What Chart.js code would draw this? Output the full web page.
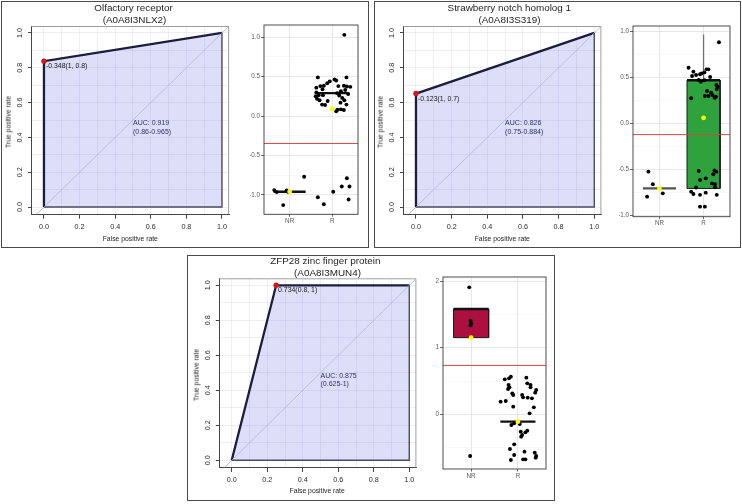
<!DOCTYPE html>
<html><head><meta charset="utf-8">
<script src="https://cdn.jsdelivr.net/npm/chart.js@4.4.1/dist/chart.umd.min.js"></script>
<style>
html,body{margin:0;padding:0;background:#fff;width:742px;height:504px;overflow:hidden;position:relative;font-family:"Liberation Sans",Arial,sans-serif;}
canvas{position:absolute;left:0;top:0;}
.frame{position:absolute;border:1px solid #4a4a4a;box-sizing:border-box;}
.t{position:absolute;white-space:nowrap;transform:translate(-50%,-50%);line-height:1;}
</style></head><body>
<script>
// ---------------- DATA ----------------
const TITLES = ['Olfactory receptor', 'Strawberry notch homolog 1', 'ZFP28 zinc finger protein'];
const IDS = ['(A0A8I3NLX2)', '(A0A8I3S319)', '(A0A8I3MUN4)'];
const X_TITLE = 'False positive rate';
const Y_TITLE = 'True positive rate';
const ROC_TICKS = [0, 0.2, 0.4, 0.6, 0.8, 1];
const ROC_TICK_LABELS = ['0.0', '0.2', '0.4', '0.6', '0.8', '1.0'];
const ROC_GRID = [0, 0.1, 0.2, 0.3, 0.4, 0.5, 0.6, 0.7, 0.8, 0.9, 1];

const ROC1_FPR = [0, 0, 1];
const ROC1_TPR = [0, 0.838, 1];
const ROC2_FPR = [0, 0, 1];
const ROC2_TPR = [0, 0.652, 1];
const ROC3_FPR = [0, 0.25, 1];
const ROC3_TPR = [0, 1, 1];
const BEST_FPR = [0, 0, 0.25];
const BEST_TPR = [0.838, 0.652, 1];
const BEST_LABELS = ['-0.348(1, 0.8)', '-0.123(1, 0.7)', '0.734(0.8, 1)'];
const AUC_LABELS = ['AUC: 0.919', 'AUC: 0.826', 'AUC: 0.875'];
const AUC_CI = ['(0.86-0.965)', '(0.75-0.884)', '(0.625-1)'];

const GROUPS = ['NR', 'R'];
const THRESHOLDS = [-0.348, -0.123, 0.734];

// panel 1 strip plot
const P1_NR_X = [0.64, 0.70, 0.93, 0.97, 0.85, 1.34];
const P1_NR_Y = [-0.94, -0.965, -0.945, -0.965, -1.13, -0.77];
const P1_R_X = [2.28,1.66,2.33,1.72,1.80,1.88,1.94,2.05,2.09,2.14,2.27,2.34,2.42,1.625,1.77,1.625,1.61,1.64,1.70,1.76,1.83,1.89,2.11,2.16,2.23,2.19,2.28,2.33,2.12,2.20,2.27,2.09,1.68,1.78,2.30,2.37,2.20,1.66,1.80,2.02,2.22,2.34,2.40,2.38];
const P1_R_Y = [1.03,0.49,0.49,0.38,0.385,0.415,0.44,0.465,0.45,0.38,0.385,0.375,0.37,0.36,0.34,0.30,0.25,0.22,0.20,0.145,0.14,0.19,0.29,0.26,0.23,0.17,0.20,0.145,0.08,0.085,0.077,0.06,0.265,0.265,0.33,0.28,0.315,-1.03,-1.12,-0.96,-0.895,-0.79,-0.895,-1.06];
const P1_Q1 = [-0.96, 0.29];
const P1_Q3 = [-0.96, 0.29];
const P1_MEDIAN = [-0.96, 0.29];
const P1_MEAN = [-0.96, 0.09];
const P1_Y_TICKS = [-1, -0.5, 0, 0.5, 1];
const P1_Y_LABELS = ['-1.0', '-0.5', '0.0', '0.5', '1.0'];
const P1_Y_MINOR = [-0.75, -0.25, 0.25, 0.75];

// panel 2 box plot
const P2_NR_X = [0.75, 0.85, 1.075, 0.72];
const P2_NR_Y = [-0.527, -0.665, -0.764, -0.80];
const P2_R_X = [2.35,1.66,1.77,1.83,1.92,1.96,2.02,2.07,2.11,2.15,1.74,1.89,1.94,2.02,2.29,2.32,2.30,2.08,2.17,2.20,2.03,2.11,2.28,1.72,2.25,1.89,1.92,2.05,2.25,2.29,2.22,2.19,2.26,1.72,1.77,1.92,2.05,2.26,2.30,1.92,2.03,1.83];
const P2_R_Y = [0.884,0.607,0.564,0.527,0.535,0.545,0.556,0.589,0.589,0.505,0.516,0.473,0.455,0.47,0.418,0.40,0.375,0.353,0.335,0.309,0.298,0.298,0.29,0.273,0.28,-0.52,-0.618,-0.60,-0.513,-0.527,-0.556,-0.655,-0.665,-0.745,-0.771,-0.78,-0.756,-0.698,-0.78,-0.909,-0.909,-0.70];
const P2_Q1 = [-0.71, -0.71];
const P2_Q3 = [-0.71, 0.47];
const P2_MEDIAN = [-0.71, 0.47];
const P2_MEAN = [-0.71, 0.06];
const P2_WHISKER_TOP = [null, 0.97];
const P2_Y_TICKS = [-1, -0.5, 0, 0.5, 1];
const P2_Y_LABELS = ['-1.0', '-0.5', '0.0', '0.5', '1.0'];
const P2_Y_MINOR = [-0.75, -0.25, 0.25, 0.75];

// panel 3 box plot
const P3_NR_X = [0.96, 0.99, 1.0, 0.99, 0.98];
const P3_NR_Y = [1.905, 1.405, 1.365, 1.335, -0.625];
const P3_R_X = [1.72,1.81,1.85,2.18,1.80,1.82,1.79,2.20,2.27,2.27,2.39,2.37,1.88,1.90,2.09,2.11,2.21,2.30,1.63,1.74,1.90,2.34,2.25,1.86,1.92,2.04,2.06,2.09,2.07,2.20,2.16,1.92,1.83,1.92,1.85,2.14,2.11,2.16,2.36,2.39,2.38];
const P3_R_Y = [0.525,0.54,0.565,0.55,0.44,0.405,0.38,0.465,0.44,0.405,0.365,0.325,0.315,0.29,0.29,0.255,0.25,0.24,0.19,0.20,0.115,0.105,0.015,-0.16,-0.135,-0.145,-0.26,-0.31,-0.335,-0.245,-0.27,-0.45,-0.52,-0.61,-0.685,-0.56,-0.675,-0.675,-0.575,-0.625,-0.65];
const P3_Q1 = [1.15, -0.11];
const P3_Q3 = [1.58, -0.11];
const P3_MEDIAN = [1.58, -0.11];
const P3_MEAN = [1.15, -0.11];
const P3_Y_TICKS = [0, 1, 2];
const P3_Y_LABELS = ['0', '1', '2'];
const P3_Y_MINOR = [-0.5, 0.5, 1.5];

// ---------------- LAYOUT / STYLE ----------------
const FONT = '"Liberation Sans", Arial, sans-serif';
const W = 742, H = 504;

function addFrame(l, t, w, h) {
  const d = document.createElement('div'); d.className = 'frame';
  Object.assign(d.style, {left: l + 'px', top: t + 'px', width: w + 'px', height: h + 'px'});
  document.body.appendChild(d);
}
function addText(txt, x, y, size, color, rot) {
  const d = document.createElement('div'); d.className = 't'; d.textContent = txt;
  Object.assign(d.style, {left: x + 'px', top: y + 'px', fontSize: size + 'px', color: color});
  if (rot) d.style.transform = 'translate(-50%,-50%) rotate(-90deg)';
  document.body.appendChild(d);
}
function newCanvas() {
  const c = document.createElement('canvas'); c.width = W; c.height = H;
  c.style.width = W + 'px'; c.style.height = H + 'px';
  document.body.appendChild(c); return c;
}
function tickLabel(v, ticks, labels) {
  const k = ticks.findIndex(t => Math.abs(t - v) < 1e-9);
  return k >= 0 ? labels[k] : '';
}
const isMajor = (v, ticks) => ticks.some(t => Math.abs(t - v) < 1e-9);

function rocChart(A, fpr, tpr, i) {
  const YW = 20, XH = 20;
  const curve = fpr.map((x, k) => ({x: x, y: tpr[k]}));
  new Chart(newCanvas(), {
    type: 'scatter',
    data: {datasets: [
      {data: [{x: BEST_FPR[i], y: BEST_TPR[i]}], pointRadius: 2.7, backgroundColor: '#d01818', borderWidth: 0},
      {data: [{x: 1, y: 1}, {x: 1, y: 0}, {x: 0, y: 0}], showLine: true, borderColor: '#4c4c5c', borderWidth: 1.4, pointRadius: 0},
      {data: [{x: -0.2, y: -0.2}, {x: 1.2, y: 1.2}], showLine: true, borderColor: '#b9bde0', borderWidth: 1, pointRadius: 0},
      {data: curve, showLine: true, fill: 'origin', backgroundColor: 'rgba(112,122,232,0.24)', borderColor: '#1c1c3c', borderWidth: 2.3, pointRadius: 0}
    ]},
    options: {
      responsive: false, animation: false, events: [],
      layout: {padding: {left: A.l - YW, top: A.t, right: W - A.r, bottom: H - A.b - XH}},
      plugins: {legend: {display: false}, tooltip: {enabled: false}},
      scales: {
        x: {type: 'linear', min: -0.07, max: 1.04, bounds: 'data',
          afterBuildTicks: s => { s.ticks = ROC_GRID.map(v => ({value: v})); },
          afterFit: s => { s.height = XH; },
          ticks: {autoSkip: false, maxRotation: 0, minRotation: 0, padding: 4, color: '#2a2a2a',
            font: {family: FONT, size: 7.2}, callback: v => tickLabel(v, ROC_TICKS, ROC_TICK_LABELS)},
          grid: {color: 'rgba(165,170,225,0.26)', lineWidth: 0.8, tickLength: 4.7,
            tickColor: c => isMajor(c.tick.value, ROC_TICKS) ? '#444' : 'rgba(0,0,0,0)', tickWidth: 1},
          border: {display: true, color: '#444', width: 1}},
        y: {type: 'linear', min: -0.04, max: 1.04, bounds: 'data',
          afterBuildTicks: s => { s.ticks = ROC_GRID.map(v => ({value: v})); },
          afterFit: s => { s.width = YW; },
          ticks: {display: false},
          grid: {color: 'rgba(165,170,225,0.26)', lineWidth: 0.8, tickLength: 3.5,
            tickColor: c => isMajor(c.tick.value, ROC_TICKS) ? '#444' : 'rgba(0,0,0,0)', tickWidth: 1},
          border: {display: true, color: '#444', width: 1}}
      }
    },
    plugins: [{
      id: 'rocText',
      afterDraw(chart) {
        const {ctx, chartArea: a} = chart;
        const x = chart.scales.x, y = chart.scales.y;
        ctx.save();
        ctx.strokeStyle = '#a0a0a0'; ctx.lineWidth = 1;
        ctx.beginPath();
        ctx.moveTo(a.left, a.top + 0.5); ctx.lineTo(a.right - 0.5, a.top + 0.5); ctx.lineTo(a.right - 0.5, a.bottom);
        ctx.stroke();
        ctx.fillStyle = '#2a2a2a';
        ctx.font = '7.2px ' + FONT;
        ctx.textAlign = 'center'; ctx.textBaseline = 'middle';
        ROC_TICKS.forEach((v, k) => {
          ctx.save();
          ctx.translate(a.left - 11.3, y.getPixelForValue(v));
          ctx.rotate(-Math.PI / 2);
          ctx.fillText(ROC_TICK_LABELS[k], 0, 0);
          ctx.restore();
        });
        const px = x.getPixelForValue(BEST_FPR[i]), py = y.getPixelForValue(BEST_TPR[i]);
        ctx.textAlign = 'left';
        ctx.fillStyle = '#161616';
        ctx.font = '6.9px ' + FONT;
        ctx.fillText(BEST_LABELS[i], px + 2, py + 5.2);
        ctx.fillStyle = '#30306a';
        ctx.font = '7px ' + FONT;
        const ax = x.getPixelForValue(0.5), ay = y.getPixelForValue(0.483);
        ctx.fillText(AUC_LABELS[i], ax, ay);
        ctx.fillText(AUC_CI[i], ax, ay + 8.7);
        ctx.restore();
      }
    }]
  });
}

function boxChart(A, yMin, yMax, yTicks, yLabels, yMinor, nrX, nrY, rX, rY, q1, q3, med, mean, medColors, boxColors, whiskTop, thr) {
  const YW = 14, XH = 12, HW = 0.375;
  const pts = nrX.map((x, k) => ({x: x, y: nrY[k]})).concat(rX.map((x, k) => ({x: x, y: rY[k]})));
  const ds = [
    {data: [{x: 0.4, y: thr}, {x: 2.6, y: thr}], showLine: true, borderColor: '#d04646', borderWidth: 1, pointRadius: 0},
    {data: [{x: 1, y: mean[0]}, {x: 2, y: mean[1]}], pointRadius: 2.4, backgroundColor: '#ffff00', borderWidth: 0},
    {data: pts, pointRadius: 1.95, backgroundColor: '#000', borderWidth: 0}
  ];
  [0, 1].forEach(g => {
    const c = g + 1;
    ds.push({data: [{x: c - HW, y: med[g]}, {x: c + HW, y: med[g]}], showLine: true, borderColor: medColors[g], borderWidth: 2.4, pointRadius: 0});
  });
  [0, 1].forEach(g => {
    const c = g + 1;
    if (q3[g] > q1[g]) {
      ds.push({data: [{x: c - HW, y: q1[g]}, {x: c - HW, y: q3[g]}, {x: c + HW, y: q3[g]}, {x: c + HW, y: q1[g]}, {x: c - HW, y: q1[g]}],
        showLine: true, fill: 'shape', backgroundColor: boxColors[g], borderColor: '#1a1a1a', borderWidth: 1, pointRadius: 0});
    }
    if (whiskTop && whiskTop[g] != null) {
      ds.push({data: [{x: c, y: q3[g]}, {x: c, y: whiskTop[g]}], showLine: true, borderColor: '#707070', borderWidth: 1.3, pointRadius: 0});
    }
  });
  const allY = yTicks.concat(yMinor).sort((a, b) => a - b);
  new Chart(newCanvas(), {
    type: 'scatter',
    data: {datasets: ds},
    options: {
      responsive: false, animation: false, events: [],
      layout: {padding: {left: A.l - YW, top: A.t, right: W - A.r, bottom: H - A.b - XH}},
      plugins: {legend: {display: false}, tooltip: {enabled: false}},
      scales: {
        x: {type: 'linear', min: 0.4, max: 2.6, bounds: 'data',
          afterBuildTicks: s => { s.ticks = [1, 2].map(v => ({value: v})); },
          afterFit: s => { s.height = XH; },
          ticks: {autoSkip: false, maxRotation: 0, padding: 0.5, color: '#5a5a5a', font: {family: FONT, size: 6.3},
            callback: v => GROUPS[Math.round(v) - 1]},
          grid: {color: '#e4e4e4', lineWidth: 0.9, tickLength: 2.5, tickColor: '#555'},
          border: {display: false}},
        y: {type: 'linear', min: yMin, max: yMax, bounds: 'data',
          afterBuildTicks: s => { s.ticks = allY.map(v => ({value: v})); },
          afterFit: s => { s.width = YW; },
          ticks: {autoSkip: false, padding: 1, color: '#5a5a5a', font: {family: FONT, size: 6.3},
            callback: v => tickLabel(v, yTicks, yLabels)},
          grid: {color: c => isMajor(c.tick.value, yTicks) ? '#e4e4e4' : '#f3f3f3', lineWidth: c => isMajor(c.tick.value, yTicks) ? 0.9 : 0.6,
            tickLength: 3, tickColor: c => isMajor(c.tick.value, yTicks) ? '#555' : 'rgba(0,0,0,0)'},
          border: {display: false}}
      }
    },
    plugins: [{
      id: 'panelFrame',
      afterDraw(chart) {
        const {ctx, chartArea: a} = chart;
        ctx.save(); ctx.strokeStyle = '#3a3a3a'; ctx.lineWidth = 0.9;
        ctx.strokeRect(a.left, a.top, a.right - a.left, a.bottom - a.top);
        ctx.restore();
      }
    }]
  });
}

// ---------------- BUILD ----------------
addFrame(1, 1, 368, 247);
addFrame(374, 1, 367, 247);
addFrame(187, 255, 368, 246);

const R1 = {l: 31.5, t: 26, r: 229.1, b: 214};
const R2 = {l: 403.5, t: 26, r: 601.4, b: 214};
const R3 = {l: 219.3, t: 278.3, r: 416.4, b: 467.3};
rocChart(R1, ROC1_FPR, ROC1_TPR, 0);
rocChart(R2, ROC2_FPR, ROC2_TPR, 1);
rocChart(R3, ROC3_FPR, ROC3_TPR, 2);

boxChart({l: 264, t: 25, r: 358, b: 214.3}, -1.247, 1.155, P1_Y_TICKS, P1_Y_LABELS, P1_Y_MINOR,
  P1_NR_X, P1_NR_Y, P1_R_X, P1_R_Y, P1_Q1, P1_Q3, P1_MEDIAN, P1_MEAN, ['#111', '#111'], [null, null], null, THRESHOLDS[0]);
boxChart({l: 633, t: 26, r: 730, b: 216.7}, -1.0185, 1.062, P2_Y_TICKS, P2_Y_LABELS, P2_Y_MINOR,
  P2_NR_X, P2_NR_Y, P2_R_X, P2_R_Y, P2_Q1, P2_Q3, P2_MEDIAN, P2_MEAN, ['#555', '#111'], [null, '#2ea23c'], P2_WHISKER_TOP, THRESHOLDS[1]);
boxChart({l: 443, t: 277, r: 546, b: 469}, -0.82, 2.06, P3_Y_TICKS, P3_Y_LABELS, P3_Y_MINOR,
  P3_NR_X, P3_NR_Y, P3_R_X, P3_R_Y, P3_Q1, P3_Q3, P3_MEDIAN, P3_MEAN, ['#111', '#111'], ['#ab1040', null], null, THRESHOLDS[2]);

// titles and axis titles
addText(TITLES[0], 133.5, 8, 9.9, '#1e1e1e');
addText(IDS[0], 134.5, 20.3, 9.9, '#1e1e1e');
addText(TITLES[1], 509.3, 8.3, 9.9, '#1e1e1e');
addText(IDS[1], 509.5, 20.3, 9.9, '#1e1e1e');
addText(TITLES[2], 325.3, 261, 9.9, '#1e1e1e');
addText(IDS[2], 327.5, 272.7, 9.9, '#1e1e1e');

addText(X_TITLE, 130.3, 239, 6.8, '#1e1e1e');
addText(X_TITLE, 502.3, 239, 6.8, '#1e1e1e');
addText(X_TITLE, 317.2, 491.3, 6.8, '#1e1e1e');
addText(Y_TITLE, 9, 121.7, 6.8, '#1e1e1e', true);
addText(Y_TITLE, 381, 121.7, 6.8, '#1e1e1e', true);
addText(Y_TITLE, 196.7, 375.3, 6.8, '#1e1e1e', true);
</script>
</body></html>
